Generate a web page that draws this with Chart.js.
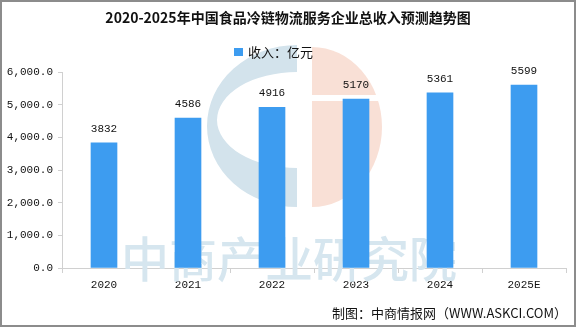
<!DOCTYPE html>
<html>
<head>
<meta charset="utf-8">
<script src="https://cdn.jsdelivr.net/npm/chart.js"></script>
<style>
  html, body { margin: 0; padding: 0; background: #fff; }
  #wrap { position: relative; width: 576px; height: 327px; box-sizing: border-box; border: 2px solid #8c8c8c; overflow: hidden; }
  #wrap canvas { position: absolute; left: -2px; top: -2px; }
</style>
</head>
<body>
<div id="wrap"><canvas id="c" width="576" height="327"></canvas></div>
<script>
// 年份与收入（亿元）
const years = ['2020', '2021', '2022', '2023', '2024', '2025E'];
const income = [3832, 4586, 4916, 5170, 5361, 5599];
const yTicks = [0, 1000, 2000, 3000, 4000, 5000, 6000];

const barColor = '#3d9cf0';
const fontCN = '"Noto Sans CJK SC", "DejaVu Sans", sans-serif';
const fontNum = '"Liberation Mono", "DejaVu Sans Mono", monospace';

// 标题、图例、背景水印
const backdrop = {
    id: 'backdrop',
    beforeDatasetsDraw(chart) {
        const ctx = chart.ctx;
        ctx.save();

        // 水印 logo：左侧蓝色 C 形
        ctx.fillStyle = '#d3e3ec';
        ctx.beginPath();
        ctx.moveTo(297, 45);
        ctx.ellipse(297, 126, 90, 81, 0, -Math.PI / 2, Math.PI / 2, true);
        ctx.lineTo(297, 168);
        ctx.ellipse(297, 120, 80, 48, 0, Math.PI / 2, -Math.PI / 2, false);
        ctx.closePath();
        ctx.fill();

        // 右侧橙色半圆（中间留一道白缝）
        ctx.fillStyle = '#f9e0d6';
        ctx.beginPath();
        ctx.moveTo(312, 47);
        ctx.ellipse(312, 127, 70, 80, 0, -Math.PI / 2, Math.PI / 2, false);
        ctx.closePath();
        ctx.fill();
        ctx.fillStyle = '#fff';
        ctx.fillRect(312, 95, 72, 6);

        // 水印文字
        ctx.font = '500 48px ' + fontCN;
        ctx.fillStyle = '#d6e6ef';
        ctx.textAlign = 'left';
        ctx.textBaseline = 'middle';
        ctx.fillText('中商产业研究院', 121, 259);
        ctx.restore();
    },
    afterDatasetsDraw(chart) {
        const ctx = chart.ctx;
        const meta = chart.getDatasetMeta(0);
        ctx.save();

        // 柱顶数值
        ctx.font = '11px ' + fontNum;
        ctx.fillStyle = '#111';
        ctx.textAlign = 'center';
        ctx.textBaseline = 'alphabetic';
        meta.data.forEach((bar, i) => {
            ctx.fillText(String(income[i]), bar.x, bar.y - 11);
        });

        // 标题
        ctx.font = 'bold 14px ' + fontCN;
        ctx.fillStyle = '#111';
        ctx.textBaseline = 'middle';
        ctx.fillText('2020-2025年中国食品冷链物流服务企业总收入预测趋势图', 288, 18);

        // 图例
        ctx.fillStyle = barColor;
        ctx.fillRect(234, 48, 9, 8);
        ctx.font = '13px ' + fontCN;
        ctx.fillStyle = '#111';
        ctx.textAlign = 'left';
        ctx.fillText('收入：亿元', 248, 52);

        // 来源
        ctx.textAlign = 'right';
        ctx.fillText('制图：中商情报网（WWW.ASKCI.COM）', 567, 313);
        ctx.restore();
    }
};

new Chart(document.getElementById('c'), {
    type: 'bar',
    data: {
        labels: years,
        datasets: [{
            label: '收入：亿元',
            data: income,
            backgroundColor: barColor,
            barThickness: 26
        }]
    },
    options: {
        responsive: false,
        animation: false,
        layout: { padding: { left: 0, right: 10, top: 72, bottom: 30 } },
        plugins: {
            title: { display: false },
            legend: { display: false },
            tooltip: { enabled: false }
        },
        scales: {
            x: {
                grid: { display: true, drawOnChartArea: false, offset: true, color: '#d0d0d0', tickLength: 5 },
                border: { color: '#d0d0d0' },
                ticks: { color: '#111', font: { family: fontNum, size: 11 }, padding: 5 },
                afterFit(s) { s.height = 29; }
            },
            y: {
                min: 0,
                max: 6000,
                afterBuildTicks(s) { s.ticks = yTicks.map(v => ({ value: v })); },
                grid: { display: true, drawOnChartArea: false, color: '#d0d0d0', tickLength: 4 },
                border: { color: '#d0d0d0' },
                ticks: {
                    color: '#111',
                    font: { family: fontNum, size: 11 },
                    padding: 5,
                    callback: v => v.toLocaleString('en-US', { minimumFractionDigits: 1, maximumFractionDigits: 1 })
                },
                afterFit(s) { s.width = 62; }
            }
        }
    },
    plugins: [backdrop]
});
</script>
</body>
</html>
